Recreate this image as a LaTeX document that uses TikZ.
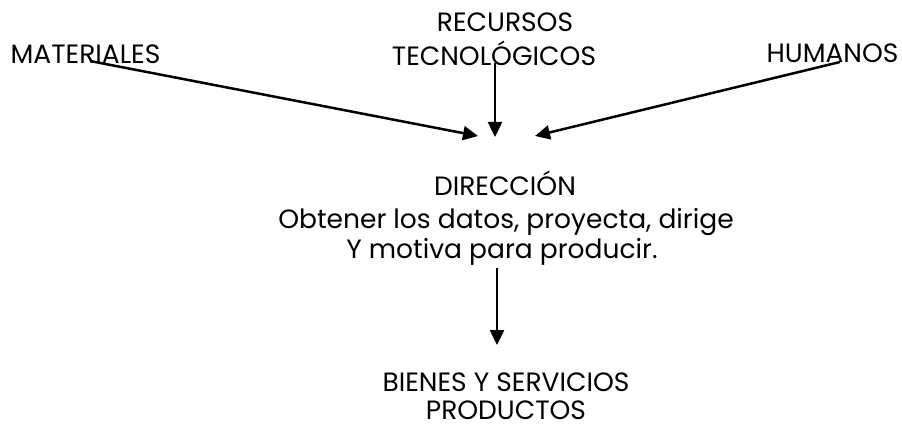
\documentclass[tikz,border=0pt]{standalone}
\usepackage{fontspec}
\setmainfont{Poppins}
\usetikzlibrary{arrows.meta}
\begin{document}
\begin{tikzpicture}[x=1pt,y=-1pt,
  lbl/.style={anchor=base,inner sep=0pt,text depth=0pt,font=\fontsize{26.5}{30}\selectfont},
  arr/.style={line width=2.5pt,-{Triangle[length=15pt,width=14pt]}}]
\useasboundingbox[fill=white] (0,0) rectangle (902,425);
\node[lbl] (mat) at (85.5,64) {MATERIALES};
\node[lbl] (rec) at (505,32) {RECURSOS};
\node[lbl] (tec) at (494,66) {TECNOLÓGICOS};
\node[lbl] (hum) at (832.5,63) {HUMANOS};
\node[lbl] (dir) at (505,195) {DIRECCIÓN};
\node[lbl] (obt) at (506,228) {Obtener los datos, proyecta, dirige};
\node[lbl] (mot) at (502,258) {Y motiva para producir.};
\node[lbl] (bie) at (506,391) {BIENES Y SERVICIOS};
\node[lbl] (pro) at (506,419) {PRODUCTOS};
\coordinate (ms) at (90,61);
\coordinate (me) at (478,136);
\coordinate (ts) at (495,63);
\coordinate (te) at (495,137);
\coordinate (hs) at (840,62);
\coordinate (he) at (535,136);
\coordinate (ds) at (497,268);
\coordinate (de) at (497,345);
\draw[arr] (ms) -- (me);
\draw[arr] (ts) -- (te);
\draw[arr] (hs) -- (he);
\draw[arr] (ds) -- (de);
\end{tikzpicture}
\end{document}
